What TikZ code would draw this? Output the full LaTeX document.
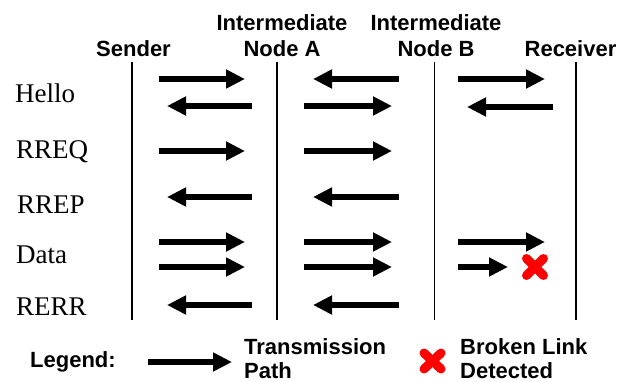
\documentclass[tikz,border=0pt]{standalone}
\usepackage{fontspec}
\setmainfont{Liberation Serif}
\newfontfamily\headfont{Liberation Sans}
\usetikzlibrary{arrows.meta}

\tikzset{
    head/.style={inner sep=0, font=\headfont\bfseries\fontsize{22}{26}\selectfont, align=center},
    rowlabel/.style={inner sep=0, anchor=base west, font=\fontsize{27}{30}\selectfont},
    lifeline/.style={line width=1.3pt},
    msg/.style={line width=6.5pt, -{Triangle[length=19pt,width=18pt]}},
    brokenx/.style={red, line width=9pt, line cap=round}
}

\begin{document}
\begin{tikzpicture}[x=1pt, y=-1pt]
        \useasboundingbox (0, 0) rectangle (628, 382);

        \node[head, anchor=south] (sender) at (133.5, 57) {Sender};
        \node[head, anchor=south] (nodeA) at (282, 57) {Intermediate\\Node A};
        \node[head, anchor=south] (nodeB) at (436, 57) {Intermediate\\Node B};
        \node[head, anchor=south] (receiver) at (570.5, 57) {Receiver};

        \draw[lifeline] (132, 62) -- (132, 320);
        \draw[lifeline] (277, 62) -- (277, 320);
        \draw[lifeline] (434.5, 62) -- (434.5, 320);
        \draw[lifeline] (576, 62) -- (576, 320);

        \node[rowlabel] (hello) at (15, 103) {Hello};
        \node[rowlabel] (rreq) at (16, 158) {RREQ};
        \node[rowlabel] (rrep) at (17, 213) {RREP};
        \node[rowlabel] (data) at (16, 263) {Data};
        \node[rowlabel] (rerr) at (16, 315) {RERR};

        % Hello
        \draw[msg] (159, 79) -- (245, 79);
        \draw[msg] (252, 106) -- (167, 106);
        \draw[msg] (399, 79) -- (313, 79);
        \draw[msg] (304, 106) -- (392, 106);
        \draw[msg] (458, 79) -- (545, 79);
        \draw[msg] (553, 107) -- (467, 107);

        % RREQ
        \draw[msg] (159, 151) -- (245, 151);
        \draw[msg] (304, 151) -- (392, 151);

        % RREP
        \draw[msg] (252, 197) -- (167, 197);
        \draw[msg] (399, 197) -- (313, 197);

        % Data
        \draw[msg] (159, 242) -- (245, 242);
        \draw[msg] (159, 267) -- (245, 267);
        \draw[msg] (304, 242) -- (392, 242);
        \draw[msg] (304, 267) -- (392, 267);
        \draw[msg] (458, 242) -- (545, 242);
        \draw[msg] (458, 267) -- (508, 267);
        \draw[brokenx] (526.5, 258.5) -- (543.5, 275.5);
        \draw[brokenx] (526.5, 275.5) -- (543.5, 258.5);

        % RERR
        \draw[msg] (252, 305) -- (167, 305);
        \draw[msg] (399, 305) -- (313, 305);

        % legend
        \node[head, anchor=base west] (legend) at (30, 367) {Legend:};
        \draw[msg] (148, 362) -- (232, 362);
        \node[head, anchor=south west, align=left, font=\headfont\bfseries\fontsize{22}{24}\selectfont] (transpath) at (244, 379) {Transmission\\Path};
        \draw[brokenx] (424, 353) -- (441, 369);
        \draw[brokenx] (424, 369) -- (441, 353);
        \node[head, anchor=south west, align=left, font=\headfont\bfseries\fontsize{22}{24}\selectfont] (broken) at (460, 379) {Broken Link\\Detected};
    \end{tikzpicture}
\end{document}
